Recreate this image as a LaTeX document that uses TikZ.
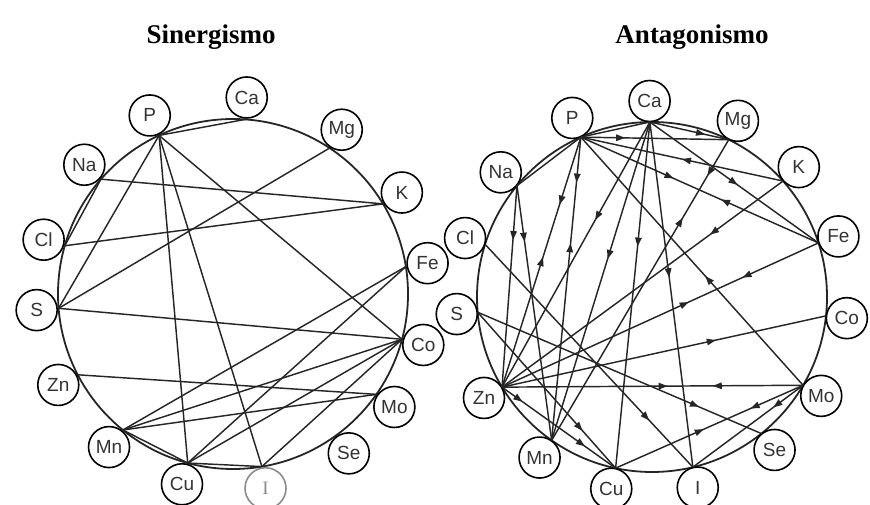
\documentclass[tikz,border=0pt]{standalone}
\usepackage{fontspec}
\setmainfont{Liberation Serif}
\newfontfamily\elemfont{Liberation Sans}
\usetikzlibrary{arrows.meta,decorations.markings}

\begin{document}
\begin{tikzpicture}[
  x=1pt,y=1pt,
  line join=round,
  elem/.style={draw,circle,fill=white,line width=1.6pt,minimum size=41pt,inner sep=0pt,text=black!80,font=\elemfont\fontsize{19}{19}\selectfont},
  faint/.style={draw=black!45,text=black!45,font=\rmfamily\fontsize{19}{19}\selectfont},
  ring/.style={line width=1.8pt,black!85},
  ln/.style={line width=1.45pt,black!85},
  title/.style={font=\bfseries\fontsize{27}{27}\selectfont},
  fwd/.style={postaction={decorate,decoration={markings,mark=at position #1 with {\arrow{Triangle[length=9pt,width=6.5pt]}}}}},
  bwd/.style={postaction={decorate,decoration={markings,mark=at position #1 with {\arrowreversed{Triangle[length=9pt,width=6.5pt]}}}}}
]
\useasboundingbox[fill=white] (0,0) rectangle (870,505);

\node[title] (tsin) at (211,468) {Sinergismo};
\node[title] (tant) at (692,468) {Antagonismo};

% Sinergismo
\begin{scope}[shift={(233,211)}]
\draw[ring] (0,0) circle (175pt);
\node[elem] (sP)  at (115:197)   {P};
\node[elem] (sCa) at (86:197)    {Ca};
\node[elem] (sMg) at (56.5:197)  {Mg};
\node[elem] (sK)  at (31:197)    {K};
\node[elem] (sFe) at (9:197)     {Fe};
\node[elem] (sCo) at (-15:197)   {Co};
\node[elem] (sMo) at (-35:197)   {Mo};
\node[elem] (sSe) at (-54:197)   {Se};
\node[elem,faint] (sI) at (-80.5:197) {I};
\node[elem] (sCu) at (-105:197)  {Cu};
\node[elem] (sMn) at (-129:197)  {Mn};
\node[elem] (sZn) at (-152.5:197) {Zn};
\node[elem] (sS)  at (-175.3:197) {S};
\node[elem] (sCl) at (164:197)   {Cl};
\node[elem] (sNa) at (139:197)   {Na};
\coordinate (sPc)  at (115:175);
\coordinate (sCac) at (86:175);
\coordinate (sMgc) at (56.5:175);
\coordinate (sKc)  at (31:175);
\coordinate (sFec) at (9:175);
\coordinate (sCoc) at (-15:175);
\coordinate (sMoc) at (-35:175);
\coordinate (sIc)  at (-80.5:175);
\coordinate (sCuc) at (-105:175);
\coordinate (sMnc) at (-129:175);
\coordinate (sZnc) at (-152.5:175);
\coordinate (sSc)  at (-175.3:175);
\coordinate (sClc) at (164:175);
\coordinate (sNac) at (139:175);
\end{scope}

\draw[ln] (sPc) -- (sCac);
\draw[ln] (sPc) -- (sSc);
\draw[ln] (sPc) -- (sCuc);
\draw[ln] (sPc) -- (sIc);
\draw[ln] (sPc) -- (sCoc);
\draw[ln] (sNac) -- (sKc);
\draw[ln] (sNac) -- (sClc);
\draw[ln] (sClc) -- (sKc);
\draw[ln] (sSc) -- (sMgc);
\draw[ln] (sSc) -- (sCoc);
\draw[ln] (sZnc) -- (sMoc);
\draw[ln] (sMnc) -- (sFec);
\draw[ln] (sMnc) -- (sCoc);
\draw[ln] (sMnc) -- (sMoc);
\draw[ln] (sMnc) -- (sCuc);
\draw[ln] (sCuc) -- (sFec);
\draw[ln] (sCuc) -- (sCoc);
\draw[ln] (sCuc) -- (sIc);
\draw[ln] (sIc) -- (sCoc);

% Antagonismo
\begin{scope}[shift={(652,208)}]
\draw[ring] (0,0) circle (175pt);
\node[elem] (aP)  at (114:196)   {P};
\node[elem] (aCa) at (90.7:196)  {Ca};
\node[elem] (aMg) at (64:196)    {Mg};
\node[elem] (aK)  at (41.5:196)  {K};
\node[elem] (aFe) at (18:196)    {Fe};
\node[elem] (aCo) at (-6.2:196)  {Co};
\node[elem] (aMo) at (-30.3:196) {Mo};
\node[elem] (aSe) at (-51.3:196) {Se};
\node[elem] (aI)  at (-76.5:196) {I};
\node[elem] (aCu) at (-102:196)  {Cu};
\node[elem] (aMn) at (-125:196)  {Mn};
\node[elem] (aZn) at (-149:196)  {Zn};
\node[elem] (aS)  at (-175:196)  {S};
\node[elem] (aCl) at (162.5:196) {Cl};
\node[elem] (aNa) at (140.5:196) {Na};
\coordinate (aPc)  at (114:175);
\coordinate (aCac) at (90.7:175);
\coordinate (aMgc) at (64:175);
\coordinate (aKc)  at (41.5:175);
\coordinate (aFec) at (18:175);
\coordinate (aCoc) at (-6.2:175);
\coordinate (aMoc) at (-30.3:175);
\coordinate (aSec) at (-51.3:175);
\coordinate (aIc)  at (-76.5:175);
\coordinate (aCuc) at (-102:175);
\coordinate (aMnc) at (-125:175);
\coordinate (aZnc) at (-149:175);
\coordinate (aSc)  at (-175:175);
\coordinate (aClc) at (162.5:175);
\coordinate (aNac) at (140.5:175);
\end{scope}

\draw[ln] (aPc) -- (aNac);
\draw[ln] (aPc) -- (aCac);
\draw[ln,fwd=0.7] (aCac) -- (aMgc);
\draw[ln,fwd=0.3] (aPc) -- (aMgc);
\draw[ln,bwd=0.5] (aPc) -- (aKc);
\draw[ln,fwd=0.39,bwd=0.59] (aPc) -- (aFec);
\draw[ln,bwd=0.56] (aPc) -- (aMoc);
\draw[ln,fwd=0.27,bwd=0.48] (aPc) -- (aZnc);
\draw[ln,fwd=0.15,bwd=0.35] (aPc) -- (aMnc);
\draw[ln,fwd=0.52] (aCac) -- (aFec);
\draw[ln,fwd=0.37] (aCac) -- (aZnc);
\draw[ln,fwd=0.43] (aCac) -- (aMnc);
\draw[ln,fwd=0.36] (aCac) -- (aCuc);
\draw[ln,fwd=0.45] (aCac) -- (aIc);
\draw[ln,fwd=0.12,bwd=0.26] (aMgc) -- (aMnc);
\draw[ln,fwd=0.26] (aKc) -- (aZnc);
\draw[ln,fwd=0.24,bwd=0.41] (aFec) -- (aZnc);
\draw[ln,bwd=0.34] (aCoc) -- (aZnc);
\draw[ln,fwd=0.55,bwd=0.7] (aZnc) -- (aMoc);
\draw[ln,fwd=0.28,bwd=0.53] (aMoc) -- (aCuc);
\draw[ln,fwd=0.27] (aMoc) -- (aIc);
\draw[ln,fwd=0.27] (aNac) -- (aZnc);
\draw[ln,fwd=0.22] (aNac) -- (aMnc);
\draw[ln,fwd=0.79] (aClc) -- (aIc);
\draw[ln,fwd=0.78] (aSc) -- (aSec);
\draw[ln,fwd=0.76] (aSc) -- (aCuc);
\draw[ln,fwd=0.18,fwd=0.73] (aZnc) -- (aCuc);
\end{tikzpicture}
\end{document}
